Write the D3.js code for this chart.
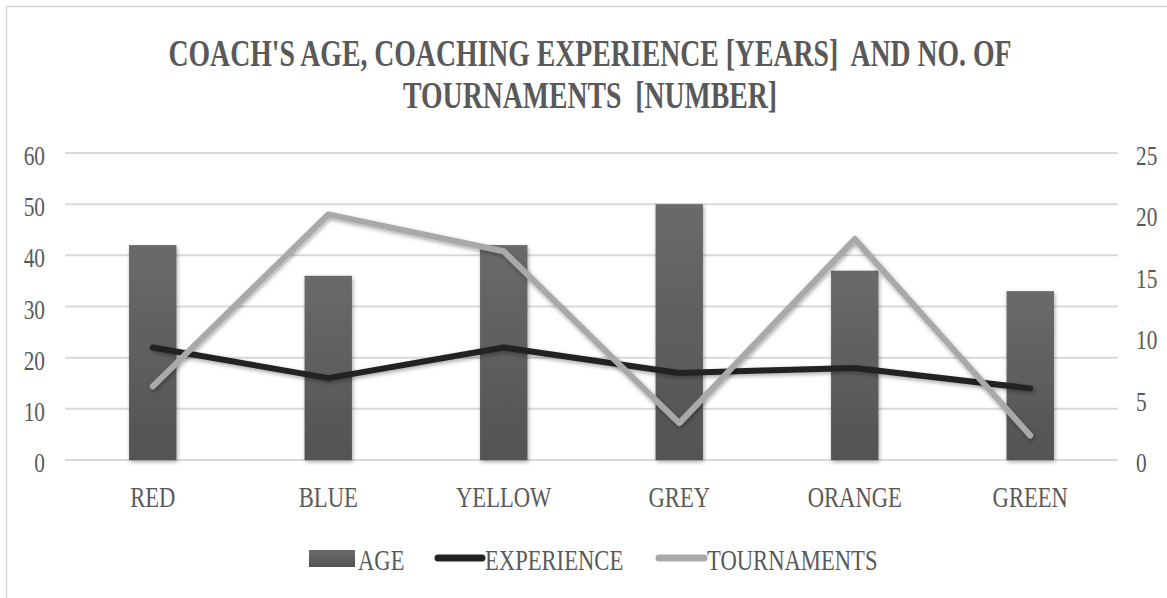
<!DOCTYPE html>
<html>
<head>
<meta charset="utf-8">
<script src="https://cdn.jsdelivr.net/npm/d3@7"></script>
<style>
  body { margin: 0; background: #fff; }
  text { font-family: "Liberation Serif", "Times New Roman", serif; fill: #595959; white-space: pre; }
</style>
</head>
<body>
<script>
// Data
const teams = ["RED", "BLUE", "YELLOW", "GREY", "ORANGE", "GREEN"];
const age = [42, 36, 42, 50, 37, 33];
const experience = [22, 16, 22, 17, 18, 14];
const tournaments = [6, 20, 17, 3, 18, 2];
const leftTicks = [0, 10, 20, 30, 40, 50, 60];
const rightTicks = [0, 5, 10, 15, 20, 25];
const titleLines = ["COACH'S AGE, COACHING EXPERIENCE [YEARS]  AND NO. OF", "TOURNAMENTS  [NUMBER]"];

const W = 1167, H = 598;
const plot = { left: 65, right: 1118, top: 153, bottom: 460 };

const svg = d3.select("body").append("svg")
    .attr("width", W)
    .attr("height", H);

const defs = svg.append("defs");
const grad = defs.append("linearGradient")
    .attr("id", "barGrad")
    .attr("x1", 0).attr("y1", 0).attr("x2", 0).attr("y2", 1);
grad.append("stop").attr("offset", "0%").attr("stop-color", "#6a6a6a");
grad.append("stop").attr("offset", "100%").attr("stop-color", "#535353");

const shadow = defs.append("filter")
    .attr("id", "shadow")
    .attr("x", "-20%").attr("y", "-20%").attr("width", "140%").attr("height", "140%");
shadow.append("feDropShadow")
    .attr("dx", 1).attr("dy", 2).attr("stdDeviation", 2)
    .attr("flood-color", "#000").attr("flood-opacity", 0.35);

// Chart border
svg.append("rect")
    .attr("x", 6.5).attr("y", 6.5)
    .attr("width", W + 20).attr("height", H + 20)
    .attr("fill", "none")
    .attr("stroke", "#d9d9d9")
    .attr("stroke-width", 1.5);

// compressed serif text helper
function label(g, x, y, str, size, sx, anchor, weight) {
    return g.append("text")
        .attr("transform", `translate(${x},${y}) scale(${sx},1)`)
        .attr("text-anchor", anchor)
        .style("font-size", size + "px")
        .style("font-weight", weight || "normal")
        .text(str);
}

// Scales
const x = d3.scaleBand()
    .domain(teams)
    .range([plot.left, plot.right])
    .paddingInner(0.73)
    .paddingOuter(0.365);
const band = d3.scaleBand().domain(teams).range([plot.left, plot.right]);
const yLeft = d3.scaleLinear().domain([0, 60]).range([plot.bottom, plot.top]);
const yRight = d3.scaleLinear().domain([0, 25]).range([plot.bottom, plot.top]);

// Title
titleLines.forEach((t, i) => {
    label(svg, 590, 66 + i * 42, t, 37, 0.75, "middle", "bold");
});

// Gridlines
svg.append("g")
    .selectAll("line")
    .data(leftTicks)
    .join("line")
    .attr("x1", plot.left).attr("x2", plot.right)
    .attr("y1", d => yLeft(d)).attr("y2", d => yLeft(d))
    .attr("stroke", "#d9d9d9")
    .attr("stroke-width", 2);

// Axis labels
const axisG = svg.append("g");
leftTicks.forEach(v => label(axisG, 45, yLeft(v) + 12, v, 27, 0.79, "end"));
rightTicks.forEach(v => label(axisG, 1136, yRight(v) + 12, v, 27, 0.79, "start"));
teams.forEach(t => label(axisG, band(t) + band.bandwidth() / 2, 507, t, 29, 0.78, "middle"));

// Bars
svg.append("g")
    .selectAll("rect")
    .data(teams)
    .join("rect")
    .attr("x", d => x(d))
    .attr("width", x.bandwidth())
    .attr("y", (d, i) => yLeft(age[i]))
    .attr("height", (d, i) => plot.bottom - yLeft(age[i]))
    .attr("fill", "url(#barGrad)")
    .attr("filter", "url(#shadow)");

const cx = d => band(d) + band.bandwidth() / 2;

// Experience line (left axis)
svg.append("path")
    .datum(teams)
    .attr("d", d3.line().x(cx).y((d, i) => yLeft(experience[i])))
    .attr("fill", "none")
    .attr("stroke", "#222")
    .attr("stroke-width", 6)
    .attr("stroke-linecap", "round")
    .attr("stroke-linejoin", "round")
    .attr("filter", "url(#shadow)");

// Tournaments line (right axis)
svg.append("path")
    .datum(teams)
    .attr("d", d3.line().x(cx).y((d, i) => yRight(tournaments[i])))
    .attr("fill", "none")
    .attr("stroke", "#a9a9a9")
    .attr("stroke-width", 6)
    .attr("stroke-linecap", "round")
    .attr("stroke-linejoin", "round")
    .attr("filter", "url(#shadow)");

// Legend
const lg = svg.append("g");
lg.append("rect")
    .attr("x", 309).attr("y", 550)
    .attr("width", 46).attr("height", 17)
    .attr("fill", "url(#barGrad)");
label(lg, 358, 570, "AGE", 29, 0.78, "start");
lg.append("line")
    .attr("x1", 438).attr("x2", 482).attr("y1", 558).attr("y2", 558)
    .attr("stroke", "#222").attr("stroke-width", 7).attr("stroke-linecap", "round");
label(lg, 485, 570, "EXPERIENCE", 29, 0.78, "start");
lg.append("line")
    .attr("x1", 659).attr("x2", 704).attr("y1", 558).attr("y2", 558)
    .attr("stroke", "#a9a9a9").attr("stroke-width", 7).attr("stroke-linecap", "round");
label(lg, 707, 570, "TOURNAMENTS", 29, 0.78, "start");
</script>
</body>
</html>
